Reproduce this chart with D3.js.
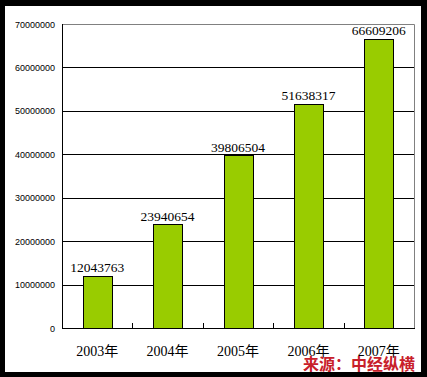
<!DOCTYPE html>
<html><head><meta charset="utf-8">
<script src="https://cdn.jsdelivr.net/npm/d3@7/dist/d3.min.js"></script>
<style>html,body{margin:0;padding:0;background:#000;}svg{display:block;}</style>
</head><body>
<svg id="c" width="427" height="377"></svg>
<script>
const categories = ["2003年","2004年","2005年","2006年","2007年"];
const values = [12043763, 23940654, 39806504, 51638317, 66609206];
const yTicks = [0,10000000,20000000,30000000,40000000,50000000,60000000,70000000];
const source = "来源：中经纵横";

const svg = d3.select("#c");
svg.append("rect").attr("x",0).attr("y",0).attr("width",427).attr("height",377).attr("fill","#000");
svg.append("rect").attr("x",5).attr("y",6).attr("width",416).attr("height",366).attr("fill","#fff");

const L=62, R=414, T=24, B=328;
const x = d3.scaleBand().domain(categories).range([L,R]).paddingInner(0.59).paddingOuter(0.295);
const y = d3.scaleLinear().domain([0,70000000]).range([B,T]);

// gridlines
svg.append("g").selectAll("line").data(yTicks.filter(d=>d>0 && d<70000000)).join("line")
  .attr("x1",L).attr("x2",R).attr("y1",d=>Math.round(y(d))+0.5).attr("y2",d=>Math.round(y(d))+0.5)
  .attr("stroke","#000").attr("stroke-width",1);
// plot border top & right (gray)
svg.append("path").attr("d",`M${L},${Math.round(y(70000000))+0.5}H${R+0.5}V${B}`)
  .attr("fill","none").attr("stroke","#808080").attr("stroke-width",1);

// bars
svg.append("g").selectAll("rect").data(values).join("rect")
  .attr("x",(d,i)=>Math.round(x(categories[i]))+0.5)
  .attr("y",d=>Math.round(y(d))+0.5)
  .attr("width",Math.round(x.bandwidth()))
  .attr("height",d=>B-Math.round(y(d)))
  .attr("fill","#99cc00").attr("stroke","#000").attr("stroke-width",1);

// axes
svg.append("line").attr("x1",L+0.5).attr("x2",L+0.5).attr("y1",T).attr("y2",B+0.5).attr("stroke","#000");
svg.append("line").attr("x1",L).attr("x2",R+1).attr("y1",B+0.5).attr("y2",B+0.5).attr("stroke","#000");
// x ticks between categories (pointing up)
const step = x.step();
svg.append("g").selectAll("line").data(categories.slice(1)).join("line")
  .attr("x1",d=>Math.round(x(d)-(step-x.bandwidth())/2)+0.5)
  .attr("x2",d=>Math.round(x(d)-(step-x.bandwidth())/2)+0.5)
  .attr("y1",B-5).attr("y2",B).attr("stroke","#000");

// y tick labels
svg.append("g").selectAll("text").data(yTicks).join("text")
  .attr("x",55).attr("y",d=>y(d)+3.5).attr("text-anchor","end")
  .attr("font-family","'Liberation Sans',Arial,sans-serif").attr("font-size",9).attr("fill","#000")
  .text(d=>d3.format("d")(d));

// value labels
svg.append("g").selectAll("text").data(values).join("text")
  .attr("x",(d,i)=>x(categories[i])+x.bandwidth()/2).attr("y",d=>y(d)-3.5)
  .attr("text-anchor","middle")
  .attr("font-family","'Liberation Serif','Times New Roman',serif").attr("font-size",13.5).attr("fill","#000")
  .text(d=>d);

// category labels
svg.append("g").selectAll("text").data(categories).join("text")
  .attr("x",d=>x(d)+x.bandwidth()/2).attr("y",356)
  .attr("text-anchor","middle")
  .attr("font-family","'Liberation Serif','Noto Sans CJK SC',serif").attr("font-size",14).attr("fill","#000")
  .text(d=>d);

// source watermark
svg.append("text").attr("x",303).attr("y",370)
  .attr("font-family","'Noto Sans CJK SC',sans-serif").attr("font-weight","bold").attr("font-size",16)
  .attr("fill","#c8202a").text(source);
</script>
</body></html>
